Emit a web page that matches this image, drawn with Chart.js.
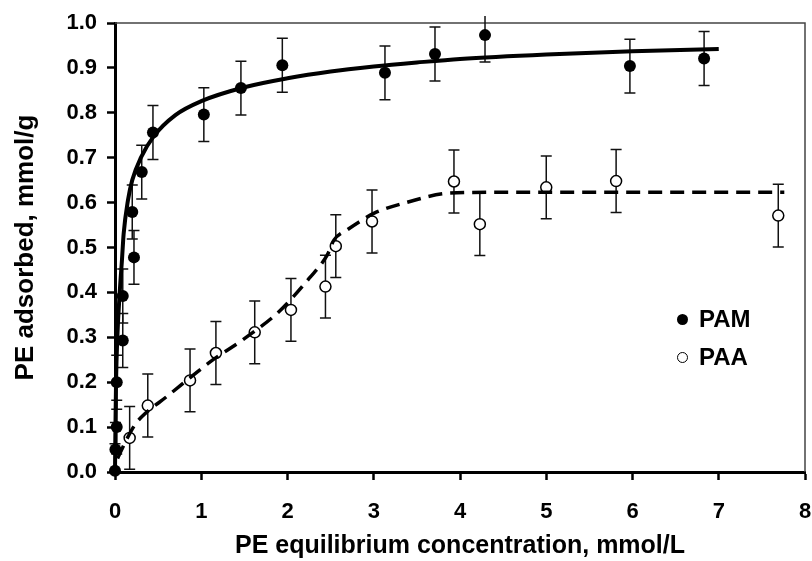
<!DOCTYPE html>
<html>
<head>
<meta charset="utf-8">
<script src="https://cdn.jsdelivr.net/npm/chart.js@4/dist/chart.umd.min.js"></script>
<style>
  body { margin:0; background:#fff; }
  #wrap { position:relative; width:812px; height:561px; overflow:hidden; }
  #legend { position:absolute; left:677px; top:300px; font:bold 24px "Liberation Sans", Arial, sans-serif; color:#000; }
  .row { display:flex; align-items:center; height:38px; }
  .dot { width:11px; height:11px; border-radius:50%; box-sizing:border-box; margin-right:11px; }
</style>
</head>
<body>
<div id="wrap">
  <canvas id="chart" width="812" height="561"></canvas>
  <div id="legend"></div>
</div>
<script>
// measured points, PE equilibrium concentration (mmol/L) vs adsorbed (mmol/g)
const seriesNames = ['PAM', 'PAA'];

const pamX   = [0, 0.005, 0.02, 0.02, 0.09, 0.09, 0.22, 0.20, 0.31, 0.44, 1.03, 1.46, 1.94, 3.13, 3.71, 4.29, 5.97, 6.83];
const pamY   = [0.003, 0.05, 0.10, 0.20, 0.293, 0.392, 0.478, 0.579, 0.668, 0.756, 0.796, 0.855, 0.906, 0.889, 0.931, 0.973, 0.904, 0.921];
const pamErr = [0.06, 0.06, 0.06, 0.06, 0.06, 0.06, 0.06, 0.06, 0.06, 0.06, 0.06, 0.06, 0.06, 0.06, 0.06, 0.06, 0.06, 0.06];

const paaX   = [0.17, 0.38, 0.87, 1.17, 1.62, 2.04, 2.44, 2.56, 2.98, 3.93, 4.23, 5.00, 5.81, 7.69];
const paaY   = [0.076, 0.148, 0.204, 0.265, 0.311, 0.361, 0.413, 0.503, 0.558, 0.647, 0.552, 0.634, 0.648, 0.571];
const paaErr = [0.07, 0.07, 0.07, 0.07, 0.07, 0.07, 0.07, 0.07, 0.07, 0.07, 0.07, 0.07, 0.07, 0.07];

// fitted curves
const pamFitX = [0, 0.005, 0.012, 0.027, 0.058, 0.08, 0.1, 0.15, 0.2, 0.3, 0.45, 0.7, 1.0, 1.5, 2.0, 2.5, 3.0, 3.5, 4.0, 5.0, 6.0, 7.0];
const pamFitY = [0, 0.1, 0.2, 0.3, 0.41, 0.47, 0.53, 0.605, 0.65, 0.70, 0.748, 0.795, 0.826, 0.857, 0.877, 0.892, 0.903, 0.912, 0.92, 0.93, 0.937, 0.942];

const paaFitX = [0.03, 0.12, 0.23, 0.31, 0.6, 1.13, 1.5, 1.9, 2.25, 2.46, 2.54, 2.69, 2.83, 3.0, 3.41, 3.87, 4.5, 5.5, 6.5, 7.76];
const paaFitY = [0.03, 0.067, 0.105, 0.123, 0.168, 0.249, 0.297, 0.357, 0.431, 0.483, 0.517, 0.539, 0.557, 0.576, 0.602, 0.621, 0.623, 0.623, 0.623, 0.623];

const xTickLabels = ['0', '1', '2', '3', '4', '5', '6', '7', '8'];
const yTickLabels = ['0.0', '0.1', '0.2', '0.3', '0.4', '0.5', '0.6', '0.7', '0.8', '0.9', '1.0'];

const FONT = '"Liberation Sans", Arial, sans-serif';
const pts = (xs, ys) => xs.map((x, i) => ({ x, y: ys[i] }));

// error bars under the markers
const errorBars = {
    id: 'errorBars',
    beforeDatasetsDraw(chart) {
        const { ctx, scales: { x, y }, chartArea } = chart;
        const sets = [[pamX, pamY, pamErr], [paaX, paaY, paaErr]];
        ctx.save();
        ctx.beginPath();
        ctx.rect(0, chartArea.top - 7, chart.width, chart.height);
        ctx.clip();
        ctx.strokeStyle = '#111';
        ctx.lineWidth = 1.5;
        sets.forEach(([xs, ys, es]) => {
            xs.forEach((v, i) => {
                const px = x.getPixelForValue(v);
                const lo = y.getPixelForValue(Math.max(ys[i] - es[i], 0));
                const hi = y.getPixelForValue(ys[i] + es[i]);
                ctx.beginPath();
                ctx.moveTo(px, lo); ctx.lineTo(px, hi);
                if (ys[i] - es[i] > 0) { ctx.moveTo(px - 5.5, lo); ctx.lineTo(px + 5.5, lo); }
                ctx.moveTo(px - 5.5, hi); ctx.lineTo(px + 5.5, hi);
                ctx.stroke();
            });
        });
        ctx.restore();
    }
};

// thin frame on the top and right of the plot
const frame = {
    id: 'frame',
    beforeDatasetsDraw(chart) {
        const { ctx, chartArea: a } = chart;
        ctx.save();
        ctx.strokeStyle = '#444';
        ctx.lineWidth = 1.5;
        ctx.beginPath();
        ctx.moveTo(a.left, a.top); ctx.lineTo(a.right, a.top); ctx.lineTo(a.right, a.bottom);
        ctx.stroke();
        ctx.restore();
    }
};

new Chart(document.getElementById('chart'), {
    type: 'scatter',
    data: {
        datasets: [
            { label: 'PAM fit', data: pts(pamFitX, pamFitY), showLine: true, borderColor: '#000', borderWidth: 4,
              pointRadius: 0, cubicInterpolationMode: 'monotone', order: 0, clip: false },
            { label: 'PAA fit', data: pts(paaFitX, paaFitY), showLine: true, borderColor: '#000', borderWidth: 3.5,
              borderDash: [14, 8], pointRadius: 0, cubicInterpolationMode: 'monotone', order: 0, clip: false },
            { label: seriesNames[0], data: pts(pamX, pamY), pointRadius: 6, backgroundColor: '#000', borderWidth: 0, order: 1, clip: false },
            { label: seriesNames[1], data: pts(paaX, paaY), pointRadius: 5.5, backgroundColor: '#fff', borderColor: '#000', borderWidth: 1.5, order: 1, clip: false }
        ]
    },
    options: {
        responsive: false,
        animation: false,
        devicePixelRatio: 1,
        layout: { padding: { top: 23, right: 4, left: 0, bottom: 0 } },
        plugins: { legend: { display: false }, tooltip: { enabled: false } },
        scales: {
            x: {
                type: 'linear', min: 0, max: 8,
                afterFit: s => { s.height = 89; s.paddingLeft = 0; s.paddingRight = 0; },
                border: { color: '#000', width: 3 },
                grid: { drawOnChartArea: false, tickLength: 8, tickColor: '#000', tickWidth: 2.5 },
                ticks: { stepSize: 1, padding: 19, color: '#000', font: { family: FONT, size: 22, weight: 'bold' },
                         callback: (v, i) => xTickLabels[i] },
                title: { display: true, text: 'PE equilibrium concentration, mmol/L', color: '#000',
                         font: { family: FONT, size: 25, weight: 'bold' }, padding: { top: 0, bottom: 0 } }
            },
            y: {
                type: 'linear', min: 0, max: 1,
                afterFit: s => { s.width = 115; s.paddingTop = 0; s.paddingBottom = 0; },
                border: { color: '#000', width: 3 },
                grid: { drawOnChartArea: false, tickLength: 8, tickColor: '#000', tickWidth: 2.5 },
                ticks: { stepSize: 0.1, padding: 10, color: '#000', font: { family: FONT, size: 22, weight: 'bold' },
                         callback: (v, i) => yTickLabels[i] },
                title: { display: true, text: 'PE adsorbed, mmol/g', color: '#000',
                         font: { family: FONT, size: 26, weight: 'bold' }, padding: { top: 10, bottom: 0 } }
            }
        }
    },
    plugins: [frame, errorBars]
});

// legend as html, same markers as the datasets
const legendStyle = [
    'background:#000;',
    'background:#fff;border:1.5px solid #000;'
];
document.getElementById('legend').innerHTML = seriesNames.map((n, i) =>
    `<div class="row"><span class="dot" style="${legendStyle[i]}"></span>${n}</div>`).join('');
</script>
</body>
</html>
